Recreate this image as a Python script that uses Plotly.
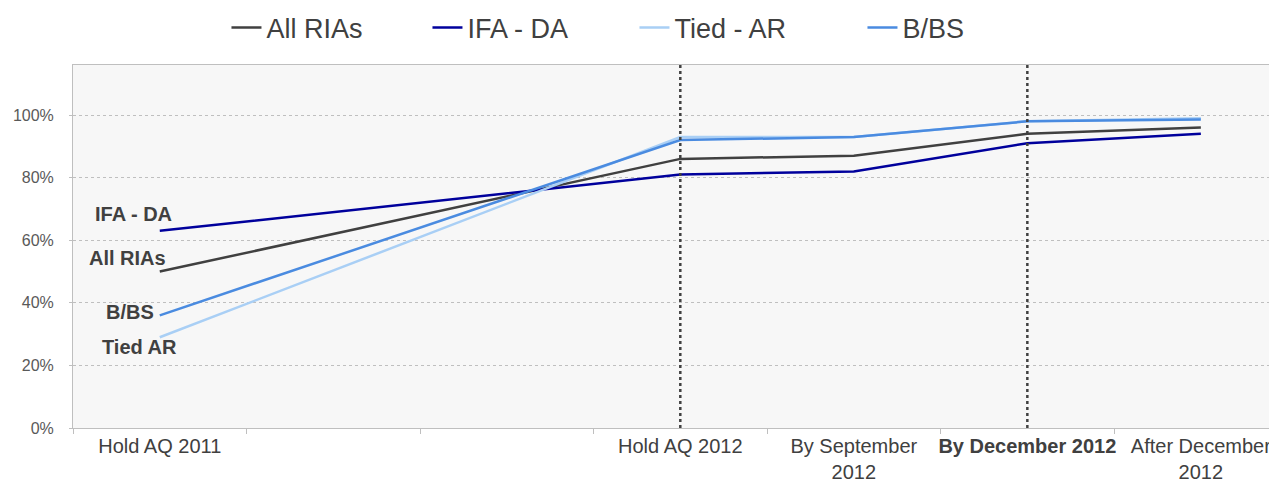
import plotly.graph_objects as go

categories = ["Hold AQ 2011", " ", "  ", "Hold AQ 2012", "By September<br>2012",
              "<b>By December 2012</b>", "After December<br>2012"]
data_cats = [categories[0], categories[3], categories[4], categories[5], categories[6]]

all_rias = [50, 86, 87, 94, 96]
ifa_da = [63, 81, 82, 91, 94]
tied_ar = [29, 93, 93, 98, 99]
b_bs = [36, 92, 93, 98, 98.6]

series = [
    ("All RIAs", all_rias, "#404040", 156),
    ("IFA - DA", ifa_da, "#00009C", 162),
    ("Tied - AR", tied_ar, "#A9CFF5", 183),
    ("B/BS", b_bs, "#4A8BE0", 100),
]

side_labels = [
    ("IFA - DA", 68.3, 14),
    ("All RIAs", 54.2, 8),
    ("B/BS", 37.2, -4),
    ("Tied AR", 26.0, 19),
]

vline_positions = [3, 5]
y_ticks = [0, 20, 40, 60, 80, 100]

W, H = 1269, 474

fig = go.Figure()
for name, vals, col, lw in series:
    fig.add_trace(go.Scatter(x=data_cats, y=vals, name=name, mode="lines",
                             legendwidth=lw,
                             line=dict(color=col, width=2.5)))

for pos in vline_positions:
    fig.add_vline(x=pos, line=dict(color="#404040", width=2.5, dash="dot"), layer="above")

for text, yv, xs in side_labels:
    fig.add_annotation(x=0, y=yv, xref="x", yref="y", text=f"<b>{text}</b>",
                       showarrow=False, xanchor="right", xshift=xs,
                       font=dict(family="Liberation Sans, Arial", size=20, color="#404040"))

fig.update_layout(
    width=W, height=H,
    margin=dict(l=65, r=5, t=57, b=54, autoexpand=False),
    paper_bgcolor="white",
    plot_bgcolor="#F7F7F7",
    font=dict(family="Liberation Sans, Arial", color="#404040"),
    showlegend=True,
    legend=dict(orientation="h", x=0.128, xanchor="left",
                yref="container", y=1 - 20 / H, yanchor="middle",
                font=dict(size=27, color="#404040"), itemwidth=30,
                bgcolor="rgba(0,0,0,0)", entrywidthmode="pixels"),
)
fig.update_xaxes(type="category", categoryorder="array", categoryarray=categories,
                 range=[-0.5, 6.41], tickson="boundaries", ticks="outside", ticklen=5,
                 tickcolor="#BFBFBF", showgrid=False, showline=True, linecolor="#BFBFBF",
                 mirror=True, automargin=False, tickangle=0,
                 tickfont=dict(size=20, color="#404040"))
fig.update_yaxes(range=[0, 116], tickvals=y_ticks, ticktext=[f"{v}%" for v in y_ticks],
                 showgrid=True, gridcolor="#BFBFBF", griddash="dot", gridwidth=1,
                 showline=True, linecolor="#BFBFBF", zeroline=False, automargin=False,
                 ticks="outside", ticklen=3, tickcolor="#BFBFBF", ticklabelstandoff=12,
                 tickfont=dict(size=16, color="#595959"))

fig.write_html("out.html")
